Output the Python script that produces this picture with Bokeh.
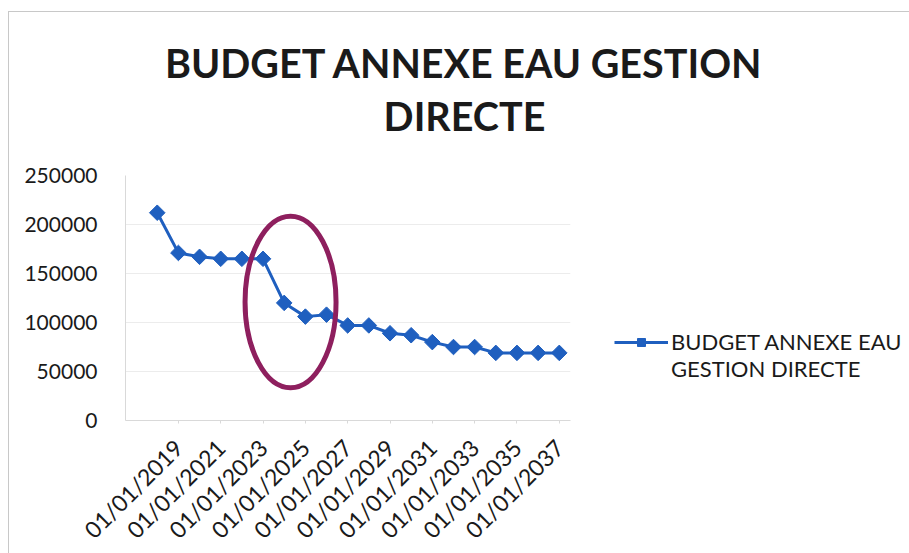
from bokeh.plotting import figure
from bokeh.models import (FixedTicker, BasicTickFormatter, Legend, LegendItem, Label)
from bokeh.embed import file_html
from bokeh.resources import INLINE
from math import pi

# ---- data ----
years = [2018, 2019, 2020, 2021, 2022, 2023, 2024, 2025, 2026, 2027,
         2028, 2029, 2030, 2031, 2032, 2033, 2034, 2035, 2036, 2037]
values = [212000, 171000, 167000, 165000, 165000, 165000, 120000, 106000, 108000, 97000,
          97000, 89000, 87000, 80000, 75000, 75000, 69000, 69000, 69000, 69000]
x_tick_years = [2019, 2021, 2023, 2025, 2027, 2029, 2031, 2033, 2035, 2037]
x_tick_labels = ["01/01/%d" % y for y in x_tick_years]
y_ticks = [0, 50000, 100000, 150000, 200000, 250000]
series_name_lines = ["BUDGET ANNEXE EAU", "GESTION DIRECTE"]
title_lines = ["BUDGET ANNEXE EAU GESTION", "DIRECTE"]
# highlighted zone (hand-drawn ellipse in the original)
highlight_x = [2024.3]
highlight_y = [121000]
highlight_w = 4.3
highlight_h = 175000

BLUE = "#1f5fbf"
ELLIPSE = "#8e1f5e"
TXT = "#1a1a1a"
FONT = "Lato"

p = figure(width=None, height=None, frame_width=445, frame_height=245,
           x_range=(2016.5, 2037.53), y_range=(0, 250000),
           output_backend="svg", toolbar_location=None,
           min_border_left=116, min_border_right=330, min_border_top=163, min_border_bottom=130)
p.outline_line_color = None
p.background_fill_color = "white"
p.border_fill_color = "white"
p.styles = {"margin-left": "8px", "margin-top": "11px",
            "border-top": "1px solid #c8c8c8", "border-left": "1px solid #c8c8c8"}

r_line = p.line(years, values, line_color=BLUE, line_width=3)
r_pts = p.scatter(years, values, marker="square", angle=pi / 4, size=11,
                  fill_color=BLUE, line_color=BLUE)

p.ellipse(x=highlight_x, y=highlight_y, width=highlight_w, height=highlight_h,
          fill_alpha=0, line_color=ELLIPSE, line_width=5)

# axes
p.xaxis.ticker = FixedTicker(ticks=x_tick_years)
p.xaxis.major_label_overrides = {y: l for y, l in zip(x_tick_years, x_tick_labels)}
p.xaxis.major_label_orientation = pi / 4
p.xaxis.major_label_text_font = FONT
p.xaxis.major_label_text_font_size = "23px"
p.xaxis.major_label_text_color = TXT
p.xaxis.major_label_standoff = 20
p.xaxis.axis_line_color = "#d9d9d9"
p.xaxis.major_tick_line_color = "#d9d9d9"
p.xaxis.major_tick_out = 3
p.xaxis.major_tick_in = 0
p.xaxis.minor_tick_line_color = None

p.yaxis.ticker = FixedTicker(ticks=y_ticks)
p.yaxis.formatter = BasicTickFormatter(use_scientific=False)
p.yaxis.major_label_text_font = FONT
p.yaxis.major_label_text_font_size = "21px"
p.yaxis.major_label_text_color = TXT
p.yaxis.major_label_standoff = 22
p.yaxis.axis_line_color = "#d9d9d9"
p.yaxis.major_tick_line_color = None
p.yaxis.minor_tick_line_color = None

p.xgrid.grid_line_color = None
p.ygrid.grid_line_color = "#ececec"
p.ygrid.ticker = FixedTicker(ticks=y_ticks)

# title (two centred lines) placed in the panel above the frame
for txt, ypos in zip(title_lines, [113, 13]):
    p.add_layout(Label(x=339, y=ypos, x_units="screen", y_units="screen", text=txt,
                       text_align="center", text_baseline="middle", text_font=FONT,
                       text_font_style="bold", text_font_size="39.5px", text_color=TXT),
                 "above")

legend = Legend(items=[LegendItem(label=series_name_lines[0], renderers=[r_line, r_pts]),
                       LegendItem(label=series_name_lines[1], renderers=[])],
                location=(44, 38), glyph_width=54, label_standoff=3, spacing=0,
                padding=0, margin=0, border_line_alpha=0, background_fill_alpha=0,
                label_text_font=FONT, label_text_font_size="22px", label_text_color=TXT)
p.add_layout(legend, "right")

open("out.html", "w").write(file_html(p, INLINE))
